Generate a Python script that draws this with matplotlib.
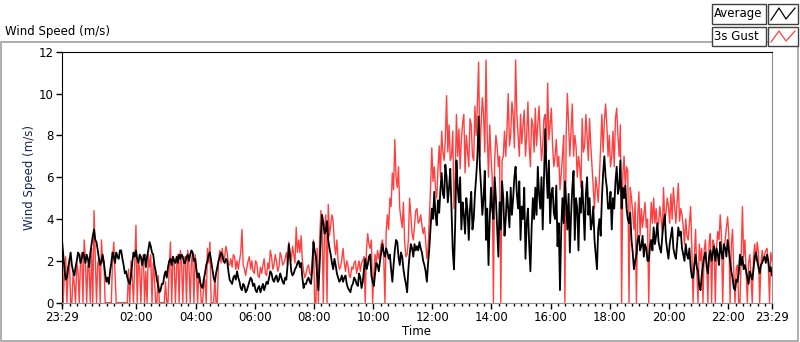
import numpy as np
import matplotlib.pyplot as plt
from matplotlib.patches import Rectangle
from matplotlib.lines import Line2D

# wind data, starting 23:29, one row per hour.
# *_5min: values on the 5 minute marks, *_mid: values 2.5 minutes after each mark
average_5min = [
    3.0, 1.6, 1.2, 2.0, 1.8, 1.3, 2.0, 2.3, 2.1, 2.2, 2.3, 1.7,
    2.8, 3.5, 2.9, 2.1, 2.0, 1.9, 1.0, 0.9, 1.9, 2.2, 2.4, 2.1,
    2.5, 1.8, 1.5, 1.0, 1.3, 2.4, 2.5, 1.9, 2.2, 2.1, 1.7, 2.5,
    2.7, 2.3, 1.5, 0.8, 0.6, 0.9, 1.5, 1.7, 2.1, 2.2, 1.9, 1.9,
    2.1, 2.2, 1.9, 2.3, 2.3, 2.4, 2.1, 1.2, 1.0, 0.7, 1.4, 2.0,
    2.4, 1.6, 1.0, 1.7, 2.2, 2.3, 1.9, 2.0, 1.1, 0.9, 1.3, 1.5,
    1.0, 0.6, 0.8, 0.6, 1.0, 1.1, 0.9, 0.5, 0.8, 0.7, 0.6, 1.0,
    1.2, 1.4, 1.0, 1.3, 1.1, 1.2, 0.9, 1.1, 2.8, 1.5, 1.4, 1.7,
    2.0, 1.9, 0.7, 0.9, 1.2, 0.9, 2.9, 2.2, 0.6, 3.2, 3.8, 3.4,
    3.0, 2.3, 1.6, 1.8, 1.2, 1.1, 1.0, 1.3, 0.7, 0.5, 0.9, 1.1,
    0.8, 1.2, 1.0, 2.1, 1.8, 2.3, 1.0, 1.4, 1.8, 2.0, 2.8, 2.2,
    2.4, 2.3, 1.0, 2.5, 2.9, 1.8, 2.2, 1.2, 0.5, 2.3, 2.6, 2.8,
    2.7, 2.9, 2.4, 1.8, 1.0, 2.6, 4.5, 5.3, 3.7, 4.3, 6.2, 5.0,
    6.0, 5.5, 4.5, 1.6, 6.8, 4.8, 3.5, 4.2, 5.0, 3.0, 5.3, 4.0,
    6.0, 8.9, 5.5, 5.0, 3.0, 1.8, 5.5, 4.0, 5.0, 2.2, 3.5, 5.0,
    4.0, 4.5, 5.5, 5.0, 6.5, 4.5, 3.0, 4.0, 2.1, 4.5, 1.5, 5.0,
    5.5, 6.5, 4.5, 3.5, 8.3, 5.0, 3.8, 5.5, 4.0, 2.7, 0.6, 5.0,
    5.8, 3.5, 2.4, 5.5, 3.0, 4.5, 5.0, 5.8, 3.0, 6.0, 5.0, 3.8,
    3.0, 1.6, 4.0, 5.0, 7.0, 5.5, 4.5, 3.5, 4.5, 6.5, 5.5, 4.5,
    5.0, 4.5, 3.8, 3.0, 1.6, 2.3, 3.2, 2.7, 2.2, 2.6, 2.0, 3.0,
    3.6, 3.2, 2.9, 2.4, 3.8, 3.0, 2.1, 3.2, 2.6, 2.1, 3.6, 3.4,
    2.3, 2.8, 2.1, 1.7, 1.2, 2.3, 1.5, 0.6, 1.8, 2.4, 1.4, 2.5,
    2.4, 2.0, 2.3, 2.9, 2.1, 2.6, 3.0, 2.0, 1.2, 0.6, 1.0, 2.3,
    2.2, 1.8, 1.2, 1.5, 1.1, 2.2, 2.0, 1.4, 1.9, 2.2, 2.3, 1.5, 1.3,
]
average_mid = [
    2.3, 1.1, 1.7, 2.4, 1.5, 1.7, 2.4, 1.9, 2.4, 1.9, 2.1, 2.4,
    3.2, 3.0, 2.5, 1.8, 2.3, 1.4, 1.2, 1.5, 2.4, 1.9, 2.2, 2.5,
    2.1, 1.4, 1.2, 0.9, 1.9, 2.2, 2.1, 2.3, 1.8, 2.3, 2.2, 2.9,
    2.4, 1.8, 1.1, 0.5, 0.9, 1.3, 1.2, 2.0, 1.8, 2.0, 2.2, 2.3,
    2.3, 1.9, 2.2, 2.0, 2.5, 2.0, 1.6, 1.4, 0.8, 1.1, 1.8, 2.3,
    2.0, 1.2, 1.4, 2.0, 2.4, 2.0, 2.1, 1.5, 1.0, 1.2, 1.1, 1.2,
    0.7, 0.9, 0.5, 0.8, 1.2, 0.8, 0.6, 0.7, 0.5, 0.9, 0.8, 0.9,
    1.5, 1.1, 1.2, 1.0, 1.4, 1.0, 1.2, 1.8, 2.2, 1.3, 1.6, 1.9,
    1.7, 1.2, 0.9, 1.1, 1.0, 1.6, 2.5, 1.3, 1.8, 4.2, 3.3, 3.9,
    2.6, 1.9, 2.1, 1.4, 1.0, 1.3, 1.2, 0.9, 0.6, 0.8, 1.2, 0.9,
    1.4, 0.7, 1.6, 1.6, 2.2, 1.3, 0.8, 1.9, 1.5, 2.4, 2.4, 2.6,
    2.1, 1.6, 1.8, 3.0, 2.2, 2.4, 1.6, 0.9, 1.6, 2.8, 2.2, 2.5,
    2.5, 2.6, 2.0, 1.5, 1.9, 3.6, 4.0, 4.2, 4.9, 5.4, 5.2, 6.6,
    4.8, 6.4, 2.5, 3.8, 5.5, 6.0, 4.8, 3.3, 4.4, 4.5, 3.5, 5.2,
    7.0, 6.5, 4.2, 6.3, 4.5, 4.0, 4.5, 6.0, 3.6, 4.8, 5.8, 3.2,
    5.3, 3.6, 4.2, 6.0, 5.2, 5.8, 4.6, 5.5, 3.8, 2.8, 3.6, 4.0,
    4.2, 5.2, 6.0, 5.8, 6.3, 6.8, 5.2, 4.3, 5.6, 3.8, 3.5, 3.8,
    4.8, 5.2, 4.2, 6.3, 5.0, 2.5, 4.3, 4.5, 5.2, 4.2, 3.5, 4.6,
    2.3, 3.5, 3.2, 6.2, 6.0, 4.5, 5.3, 5.0, 5.8, 5.2, 6.8, 5.5,
    5.6, 4.0, 4.3, 2.4, 2.0, 3.0, 2.5, 3.2, 2.8, 2.0, 2.7, 2.5,
    2.8, 3.8, 2.6, 3.2, 4.2, 2.5, 2.8, 3.6, 2.3, 2.8, 3.2, 2.6,
    2.0, 2.3, 2.6, 1.2, 1.8, 1.7, 0.8, 1.3, 2.2, 1.7, 2.2, 2.0,
    2.7, 2.6, 1.8, 2.4, 2.8, 2.2, 2.5, 1.5, 0.7, 1.1, 1.4, 1.8,
    1.6, 1.5, 0.9, 1.3, 1.6, 2.4, 1.7, 1.8, 2.1, 1.9, 2.0, 1.7,
]
gust_5min = [
    2.8, 1.5, 0.0, 2.1, 0.0, 0.9, 1.9, 0.0, 2.4, 3.0, 0.0, 1.6,
    2.6, 4.4, 0.0, 2.1, 3.0, 2.0, 0.0, 0.0, 0.0, 2.9, 0.0, 0.0,
    0.0, 0.0, 0.0, 1.6, 2.0, 0.0, 3.7, 2.0, 0.0, 2.3, 1.5, 2.3,
    2.3, 1.9, 0.0, 1.3, 0.0, 0.0, 1.0, 0.0, 2.9, 2.2, 0.0, 2.3,
    2.5, 0.0, 2.2, 2.5, 0.0, 2.4, 2.3, 0.0, 1.2, 0.0, 1.1, 2.6,
    2.9, 0.0, 1.2, 0.0, 2.5, 2.6, 2.2, 2.4, 1.8, 1.7, 2.2, 2.0,
    2.0, 3.5, 1.6, 1.7, 2.2, 2.0, 1.4, 1.9, 1.2, 1.4, 2.1, 1.3,
    1.6, 2.2, 1.8, 2.0, 1.7, 2.2, 1.9, 2.4, 2.9, 2.0, 2.3, 3.6,
    3.0, 3.2, 1.5, 1.4, 1.8, 1.3, 3.0, 0.0, 0.0, 4.4, 0.0, 4.2,
    4.7, 3.7, 3.9, 2.3, 2.0, 1.7, 2.6, 1.5, 1.8, 1.2, 1.6, 2.0,
    1.7, 1.5, 2.0, 0.0, 3.3, 2.6, 0.0, 2.3, 2.5, 2.4, 3.0, 0.0,
    4.2, 5.0, 6.2, 7.8, 5.5, 4.5, 3.6, 2.9, 2.3, 5.0, 3.3, 3.7,
    4.5, 3.9, 3.7, 3.6, 2.1, 4.0, 7.4, 6.5, 5.0, 7.5, 8.2, 6.8,
    9.9, 8.5, 7.0, 4.5, 9.0, 8.3, 7.8, 9.0, 8.0, 6.5, 8.5, 6.8,
    8.0, 11.5, 8.5, 9.0, 11.6, 6.0, 7.0, 0.0, 8.0, 6.5, 0.0, 7.0,
    7.0, 10.0, 8.0, 9.0, 11.6, 8.0, 9.0, 8.5, 7.0, 9.6, 6.5, 8.5,
    9.3, 8.5, 8.0, 7.5, 9.0, 10.5, 8.5, 7.5, 7.0, 6.5, 5.4, 7.0,
    0.0, 10.0, 7.0, 9.5, 8.0, 6.0, 6.5, 8.8, 7.5, 8.0, 8.8, 6.5,
    4.5, 5.5, 6.0, 9.0, 8.7, 8.5, 8.0, 7.0, 6.5, 9.3, 7.0, 0.0,
    7.0, 6.5, 0.0, 5.0, 3.5, 0.0, 5.3, 4.5, 4.2, 3.6, 0.0, 4.8,
    5.0, 4.5, 3.8, 4.0, 5.5, 4.3, 4.6, 5.2, 5.5, 3.8, 5.7, 4.5,
    3.6, 4.0, 3.0, 4.6, 0.0, 3.5, 0.0, 2.0, 0.0, 3.0, 0.0, 3.3,
    3.0, 0.0, 3.4, 4.2, 0.0, 3.0, 4.1, 0.0, 3.5, 0.0, 1.8, 0.0,
    4.6, 3.0, 0.0, 2.3, 0.0, 2.8, 2.9, 0.0, 2.5, 2.3, 2.6, 0.0, 2.0,
]
gust_mid = [
    0.0, 2.2, 1.6, 0.0, 1.4, 0.0, 1.5, 2.0, 0.0, 2.1, 1.8, 0.0,
    0.0, 2.2, 1.9, 0.0, 1.9, 0.0, 0.0, 0.0, 2.0, 1.5, 0.0, 0.0,
    0.0, 0.0, 0.0, 0.0, 1.2, 1.8, 0.0, 1.6, 1.9, 0.0, 0.0, 1.7,
    0.0, 1.2, 0.0, 0.0, 0.0, 0.0, 0.0, 1.7, 0.0, 2.0, 1.7, 0.0,
    1.9, 2.1, 0.0, 1.8, 2.0, 0.0, 1.7, 1.4, 0.0, 0.8, 0.0, 1.9,
    0.0, 0.0, 0.0, 2.0, 1.9, 2.0, 2.7, 1.8, 2.1, 2.3, 1.6, 1.6,
    2.4, 1.8, 1.3, 2.0, 1.6, 1.5, 2.0, 1.3, 1.7, 1.8, 1.4, 1.9,
    2.5, 1.6, 2.3, 1.5, 2.4, 1.8, 2.1, 1.8, 2.4, 2.7, 1.9, 2.4,
    2.4, 2.0, 1.2, 1.7, 1.4, 2.0, 0.0, 2.6, 3.0, 3.5, 3.6, 0.0,
    3.2, 4.2, 2.8, 3.0, 1.6, 2.1, 1.9, 2.0, 1.3, 1.7, 1.9, 1.4,
    2.0, 1.9, 2.2, 2.5, 2.8, 3.0, 1.4, 1.9, 2.1, 2.8, 2.2, 3.4,
    3.5, 4.6, 5.4, 6.0, 6.5, 4.0, 4.8, 2.2, 3.0, 4.2, 3.0, 4.4,
    3.8, 4.2, 3.3, 3.0, 2.6, 5.5, 5.8, 5.5, 6.4, 6.0, 7.2, 7.8,
    7.2, 6.8, 8.2, 6.0, 7.0, 6.4, 8.6, 6.2, 7.3, 8.8, 7.0, 9.4,
    9.5, 7.0, 9.8, 7.2, 8.0, 8.5, 6.0, 6.8, 7.5, 7.0, 6.8, 8.2,
    8.3, 7.5, 9.6, 7.4, 9.0, 7.0, 7.6, 9.2, 8.0, 7.5, 8.8, 7.2,
    7.5, 9.4, 6.8, 8.8, 7.2, 7.8, 9.3, 6.5, 7.8, 7.0, 6.2, 8.0,
    8.0, 8.5, 8.2, 7.0, 7.5, 7.0, 5.5, 7.2, 9.0, 6.8, 7.5, 5.5,
    6.0, 4.8, 7.5, 7.2, 9.5, 7.0, 6.5, 8.2, 8.8, 8.0, 8.5, 6.2,
    5.5, 6.3, 5.5, 4.3, 4.8, 4.0, 3.2, 3.6, 4.8, 4.0, 3.4, 3.8,
    3.8, 3.6, 4.6, 3.3, 3.9, 5.0, 3.8, 4.0, 4.6, 4.8, 3.9, 4.2,
    2.8, 3.2, 3.8, 2.5, 2.2, 1.5, 2.8, 2.6, 2.5, 1.8, 2.9, 0.0,
    2.8, 2.6, 3.0, 3.2, 2.6, 3.6, 3.2, 2.8, 1.5, 1.6, 0.0, 2.2,
    2.2, 1.5, 1.9, 1.2, 2.2, 2.0, 2.4, 1.8, 2.0, 2.5, 1.8, 2.4,
]
tick_labels = ['23:29', '02:00', '04:00', '06:00', '08:00', '10:00', '12:00',
               '14:00', '16:00', '18:00', '20:00', '22:00', '23:29']

# merge the two readings into one 2.5 minute series
n = len(average_5min) + len(average_mid)
average = np.empty(n)
average[0::2] = average_5min
average[1::2] = average_mid
gust = np.empty(n)
gust[0::2] = gust_5min
gust[1::2] = gust_mid

# hours since 23:29
t = np.arange(n) * 2.5 / 60.0
major = [0.0] + [31 / 60 + 2 + 2 * k for k in range(11)] + [24.0]
minor = [1 / 60 + 0.25 * k for k in range(96)]

fig = plt.figure(figsize=(8, 3.42), dpi=100)
ax = fig.add_axes([62 / 800, 1 - 302.7 / 342, 710 / 800, 251 / 342])

ax.plot(t, gust, color='#ff4040', lw=1.0)
ax.plot(t, average, color='black', lw=1.3)

ax.set_xlim(0, 24)
ax.set_ylim(0, 12)
ax.set_yticks([0, 2, 4, 6, 8, 10, 12])
ax.set_xticks(major)
ax.set_xticklabels(tick_labels)
ax.set_xticks(minor, minor=True)
ax.tick_params(axis='both', which='major', length=4, width=1, labelsize=8.5, pad=2)
ax.tick_params(axis='x', which='minor', length=2.5, width=1)
ax.set_xlabel('Time', fontsize=8.5, labelpad=1)
ax.set_ylabel('Wind Speed (m/s)', fontsize=8.5, color='#1a2550', labelpad=2)

ax.spines['top'].set_color('black')
ax.spines['left'].set_color('black')
ax.spines['right'].set_color('#909090')
ax.spines['bottom'].set_color('#909090')

# panel frame and title
fig.patches.append(Rectangle((0.5 / 800, 1 / 342), 797 / 800, 299 / 342,
                             transform=fig.transFigure, fill=False,
                             edgecolor='#a0a0a0', lw=1.2))
fig.text(5 / 800, 1 - 31 / 342, 'Wind Speed (m/s)', fontsize=8.5, va='center')

# legend boxes like the original front panel
rows = [('Average', 'black', 4, 24), ('3s Gust', '#ff4040', 27, 46)]
for name, col, ytop, ybot in rows:
    y0 = 1 - ybot / 342
    h = (ybot - ytop) / 342
    fig.patches.append(Rectangle((712 / 800, y0), 54 / 800, h, transform=fig.transFigure,
                                 facecolor='white', edgecolor='#404040', lw=1))
    fig.patches.append(Rectangle((768 / 800, y0), 30 / 800, h, transform=fig.transFigure,
                                 facecolor='white', edgecolor='#404040', lw=1))
    fig.text(714 / 800, y0 + h / 2, name, fontsize=8.5, va='center')
    xs = [771, 779, 786, 795]
    ys = [ybot - 4, ytop + 4, ybot - 5, ytop + 4]
    fig.lines.append(Line2D([x / 800 for x in xs], [1 - y / 342 for y in ys],
                            transform=fig.transFigure, color=col, lw=0.9))

plt.savefig('out.png')
